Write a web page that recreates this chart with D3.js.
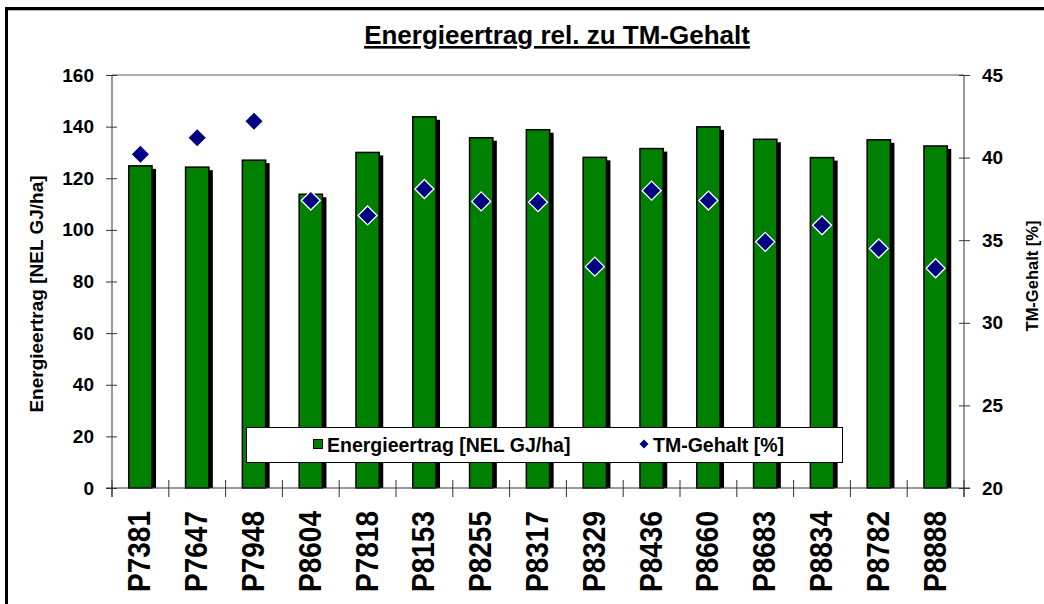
<!doctype html>
<html>
<head>
<meta charset="utf-8">
<style>
body { margin: 0; background: white; font-family: "Liberation Sans", Arial, sans-serif; }
svg text { font-family: "Liberation Sans", Arial, sans-serif; font-weight: bold; }
</style>
<script src="https://cdn.jsdelivr.net/npm/d3@7"></script>
</head>
<body>
<div id="chart"></div>
<script>
// data
var sorten = ["P7381","P7647","P7948","P8604","P7818","P8153","P8255","P8317","P8329","P8436","P8660","P8683","P8834","P8782","P8888"];
var energie = [124.8, 124.3, 127, 113.8, 130, 143.8, 135.7, 138.8, 128.1, 131.5, 139.9, 135.1, 128, 134.9, 132.5];
var tmGehalt = [40.2, 41.2, 42.2, 37.4, 36.5, 38.1, 37.35, 37.3, 33.4, 38.0, 37.4, 34.9, 35.9, 34.5, 33.3];
var leftTicks = [0, 20, 40, 60, 80, 100, 120, 140, 160];
var rightTicks = [20, 25, 30, 35, 40, 45];

var width = 1044, height = 604;
var pL = 112, pR = 964, pT = 75, pB = 488;

var svg = d3.select("#chart").append("svg")
    .attr("width", width).attr("height", height);

// outer frame
svg.append("rect").attr("x", 6.5).attr("y", 8.5)
    .attr("width", 1100).attr("height", 700)
    .attr("fill", "none").attr("stroke", "black").attr("stroke-width", 3);
svg.append("line").attr("x1", 8).attr("x2", width).attr("y1", 10.5).attr("y2", 10.5)
    .attr("stroke", "#bbb").attr("stroke-width", 1);

svg.append("text").attr("x", 557).attr("y", 44)
    .attr("text-anchor", "middle").attr("font-size", 26)
    .attr("text-decoration", "underline")
    .text("Energieertrag rel. zu TM-Gehalt");

var x = d3.scaleBand().domain(sorten).range([pL, pR]).padding(0);
var y = d3.scaleLinear().domain([0, 160]).range([pB, pT]);
var y2 = d3.scaleLinear().domain([20, 45]).range([pB, pT]);

// plot area top border
svg.append("line").attr("x1", pL).attr("x2", pR).attr("y1", pT).attr("y2", pT)
    .attr("stroke", "#909090").attr("stroke-width", 1.5);

var bw = x.bandwidth() * 0.41;

// shadows then bars
svg.selectAll(".shadow").data(energie).enter().append("rect")
    .attr("class", "shadow")
    .attr("x", function(d, i) { return x(sorten[i]) + x.bandwidth() / 2 - bw / 2 + 4; })
    .attr("y", function(d) { return y(d) + 3; })
    .attr("width", bw)
    .attr("height", function(d) { return pB - y(d) - 3; })
    .attr("fill", "black");

svg.selectAll(".bar").data(energie).enter().append("rect")
    .attr("class", "bar")
    .attr("x", function(d, i) { return x(sorten[i]) + x.bandwidth() / 2 - bw / 2; })
    .attr("y", function(d) { return y(d); })
    .attr("width", bw)
    .attr("height", function(d) { return pB - y(d); })
    .attr("fill", "#008000").attr("stroke", "black").attr("stroke-width", 1.5);

// axes
var yAxis = svg.append("g").attr("transform", "translate(" + pL + ",0)")
    .call(d3.axisLeft(y).tickValues(leftTicks).tickSize(6).tickPadding(12));
var y2Axis = svg.append("g").attr("transform", "translate(" + pR + ",0)")
    .call(d3.axisRight(y2).tickValues(rightTicks).tickSize(6).tickPadding(12));
yAxis.selectAll(".tick line").attr("x1", 5);
y2Axis.selectAll(".tick line").attr("x1", -5);
[yAxis, y2Axis].forEach(function(a) {
  a.select(".domain").remove();
  a.selectAll("text").attr("font-size", 19).attr("fill", "black")
    .style("font-family", "'Liberation Sans', Arial, sans-serif");
  a.selectAll("line").attr("stroke", "#333");
});
svg.append("line").attr("x1", pL).attr("x2", pL).attr("y1", pT).attr("y2", pB + 9)
    .attr("stroke", "#333");
svg.append("line").attr("x1", pR).attr("x2", pR).attr("y1", pT).attr("y2", pB + 9)
    .attr("stroke", "#333");

// category axis
var xAxis = svg.append("g").attr("transform", "translate(0," + pB + ")");
xAxis.append("line").attr("x1", pL - 6).attr("x2", pR + 6)
    .attr("stroke", "#333");
xAxis.selectAll(".sep").data(sorten.concat(["end"])).enter().append("line")
    .attr("x1", function(d, i) { return pL + i * x.step(); })
    .attr("x2", function(d, i) { return pL + i * x.step(); })
    .attr("y1", -8).attr("y2", 9).attr("stroke", "#333");
xAxis.selectAll(".lab").data(sorten).enter().append("text")
    .attr("transform", function(d) {
      return "translate(" + (x(d) + x.bandwidth() / 2 + 10) + ",23) rotate(-90) scale(1,1.12)";
    })
    .attr("text-anchor", "end").attr("font-size", 28)
    .text(function(d) { return d; });

// diamonds
function diamond(r) {
  return "M0," + (-r) + "L" + r + ",0L0," + r + "L" + (-r) + ",0Z";
}
svg.selectAll(".tm").data(tmGehalt).enter().append("path")
    .attr("class", "tm")
    .attr("d", diamond(9.5))
    .attr("transform", function(d, i) {
      return "translate(" + (x(sorten[i]) + x.bandwidth() / 2) + "," + y2(d) + ")";
    })
    .attr("fill", "#000080").attr("stroke", "white").attr("stroke-width", 1.3);

// axis titles
svg.append("text").attr("transform", "translate(43,294) rotate(-90)")
    .attr("text-anchor", "middle").attr("font-size", 19)
    .text("Energieertrag [NEL GJ/ha]");
svg.append("text").attr("transform", "translate(1038,276) rotate(-90)")
    .attr("text-anchor", "middle").attr("font-size", 16.5)
    .text("TM-Gehalt [%]");

// legend
var lg = svg.append("g");
lg.append("rect").attr("x", 246.5).attr("y", 427.5).attr("width", 596).attr("height", 35)
    .attr("fill", "white").attr("stroke", "black").attr("stroke-width", 1);
lg.append("rect").attr("x", 313.5).attr("y", 439.5).attr("width", 9).attr("height", 9)
    .attr("fill", "#008000").attr("stroke", "black").attr("stroke-width", 1);
lg.append("text").attr("x", 327).attr("y", 452).attr("font-size", 19.5)
    .text("Energieertrag [NEL GJ/ha]");
lg.append("path").attr("d", diamond(4.5)).attr("transform", "translate(644,444)")
    .attr("fill", "#000080");
lg.append("text").attr("x", 653).attr("y", 452).attr("font-size", 19.5)
    .text("TM-Gehalt [%]");
</script>
</body>
</html>
